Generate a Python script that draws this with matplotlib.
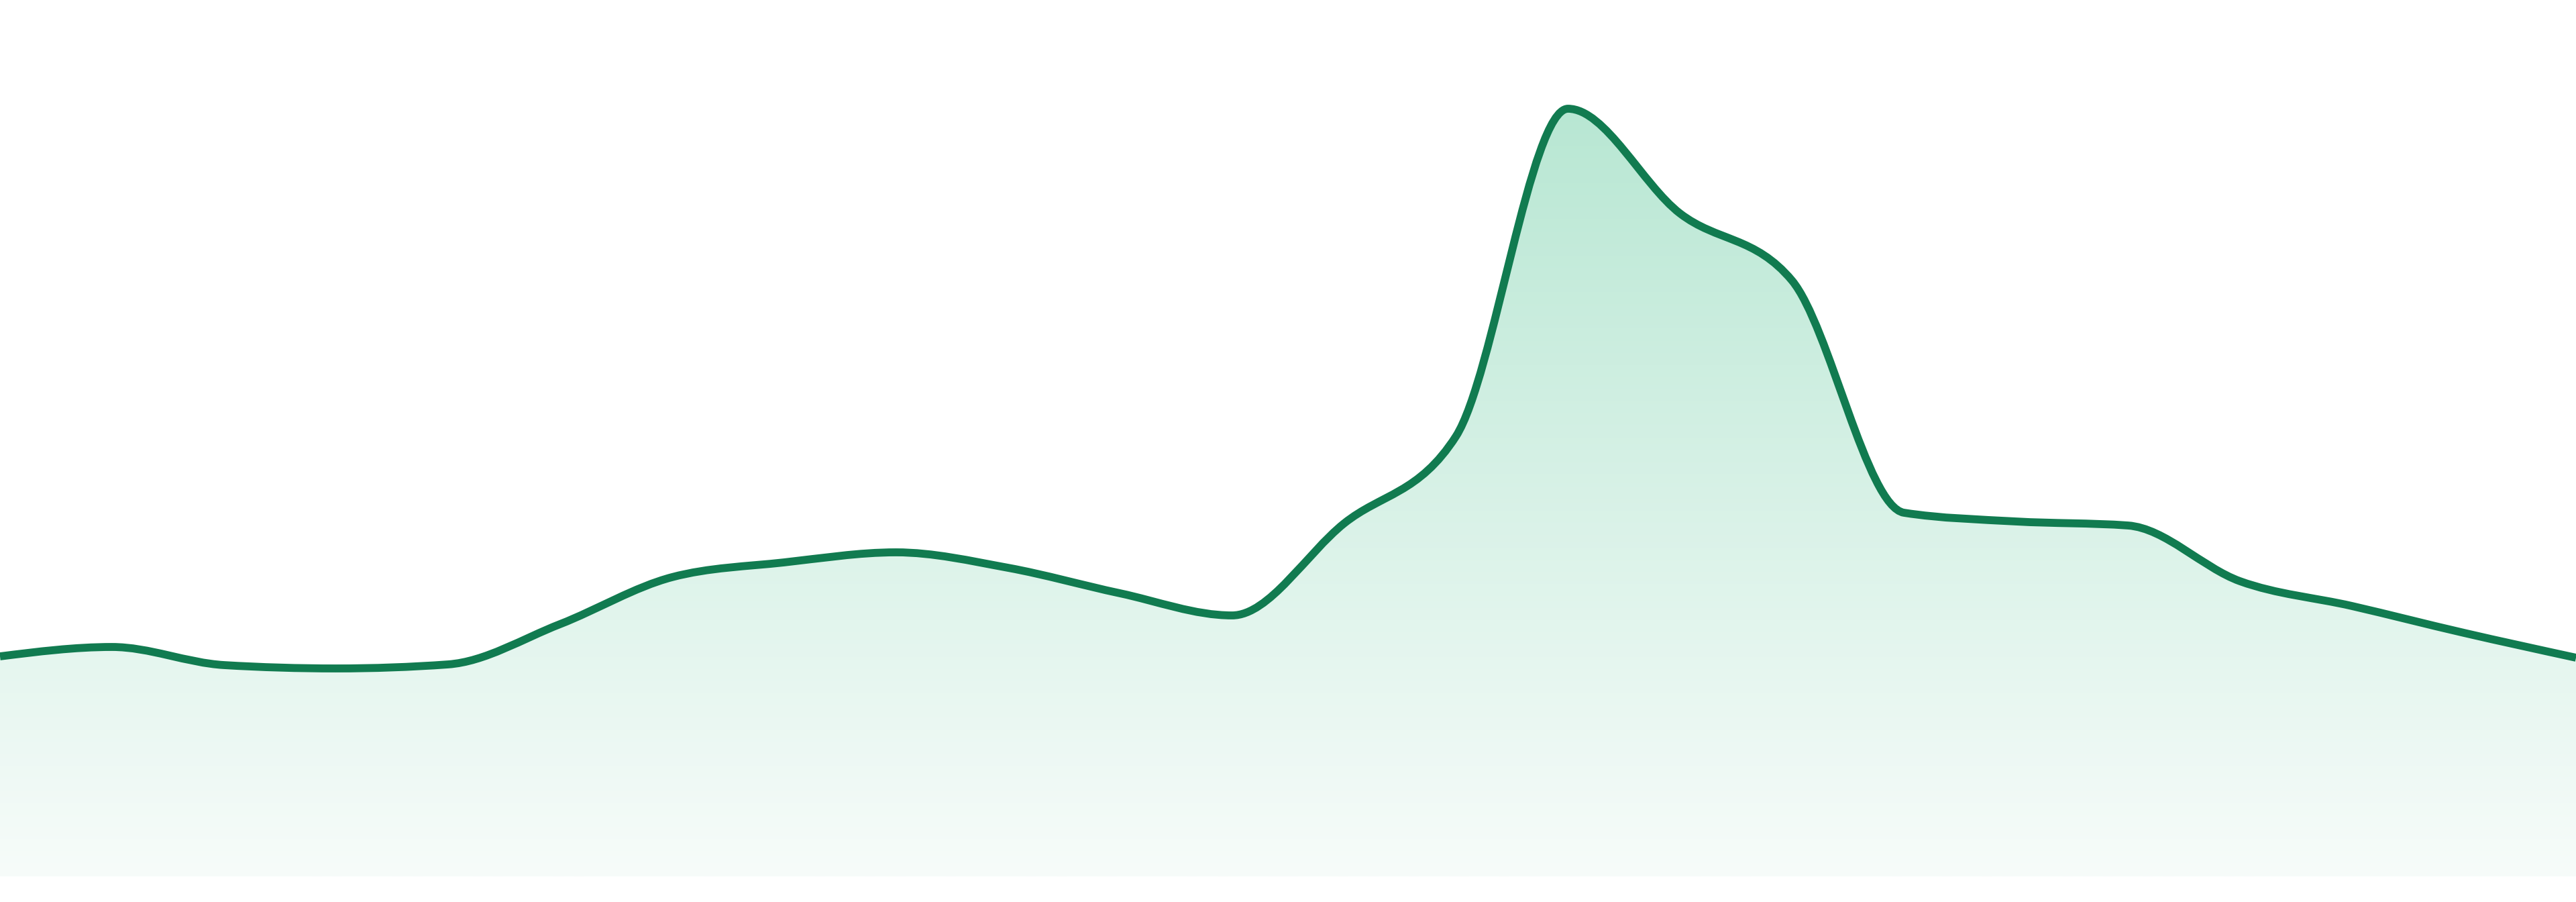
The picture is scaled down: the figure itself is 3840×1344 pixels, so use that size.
import numpy as np
import matplotlib
matplotlib.use("Agg")
import matplotlib.pyplot as plt
from matplotlib.path import Path
from matplotlib.patches import PathPatch

# ---- data ----
x_index = list(range(24))
values = [32.8, 34.2, 31.5, 31.0, 31.6, 37.6, 44.6, 46.8, 48.3, 46.0, 42.2, 38.9,
          52.6, 65.6, 114.4, 98.8, 88.8, 54.2, 52.9, 52.3, 44.0, 40.3, 36.3, 32.6]

line_color = "#117b50"
grad_top = (184, 231, 211)
grad_bottom = (247, 252, 250)


def monotone_tangents(x, y):
    x = np.asarray(x, float)
    y = np.asarray(y, float)
    n = len(x)
    h = np.diff(x)
    s = np.diff(y) / h
    t = np.zeros(n)
    for i in range(1, n - 1):
        s0, s1 = s[i - 1], s[i]
        h0, h1 = h[i - 1], h[i]
        p = (s0 * h1 + s1 * h0) / (h0 + h1)
        t[i] = (np.sign(s0) + np.sign(s1)) * min(abs(s0), abs(s1), 0.5 * abs(p))
    t[0] = (3 * s[0] - t[1]) / 2
    t[-1] = (3 * s[-1] - t[-2]) / 2
    return t


def monotone_path_parts(x, y):
    t = monotone_tangents(x, y)
    verts = [(x[0], y[0])]
    codes = [Path.MOVETO]
    for i in range(len(x) - 1):
        dx = (x[i + 1] - x[i]) / 3.0
        verts += [(x[i] + dx, y[i] + dx * t[i]),
                  (x[i + 1] - dx, y[i + 1] - dx * t[i + 1]),
                  (x[i + 1], y[i + 1])]
        codes += [Path.CURVE4] * 3
    return verts, codes


fig = plt.figure(figsize=(38.4, 13.44), dpi=100)
ax = fig.add_axes([0, 0, 1, 1])
ax.set_xlim(0, 23)
ax.set_ylim(-3.8, 130.6)
ax.axis("off")

verts, codes = monotone_path_parts(x_index, values)

# fill area with vertical gradient
fverts = verts + [(x_index[-1], 0), (x_index[0], 0), (x_index[0], values[0])]
fcodes = codes + [Path.LINETO, Path.LINETO, Path.CLOSEPOLY]
fill_patch = PathPatch(Path(fverts, fcodes), facecolor="none", edgecolor="none")
ax.add_patch(fill_patch)

ytop = max(values)
n = 400
frac = np.linspace(0, 1, n)[:, None]
top = np.array(grad_top) / 255.0
bot = np.array(grad_bottom) / 255.0
grad = top[None, :] * (1 - frac) + bot[None, :] * frac
grad = grad[:, None, :]
im = ax.imshow(grad, extent=[0, 23, 0, ytop], origin="upper", aspect="auto",
               interpolation="bilinear", zorder=1)
im.set_clip_path(fill_patch)

line_patch = PathPatch(Path(verts, codes), facecolor="none", edgecolor=line_color,
                       linewidth=8.5, capstyle="butt", joinstyle="round", zorder=3)
ax.add_patch(line_patch)

fig.savefig("out.png", dpi=100, facecolor="white")
